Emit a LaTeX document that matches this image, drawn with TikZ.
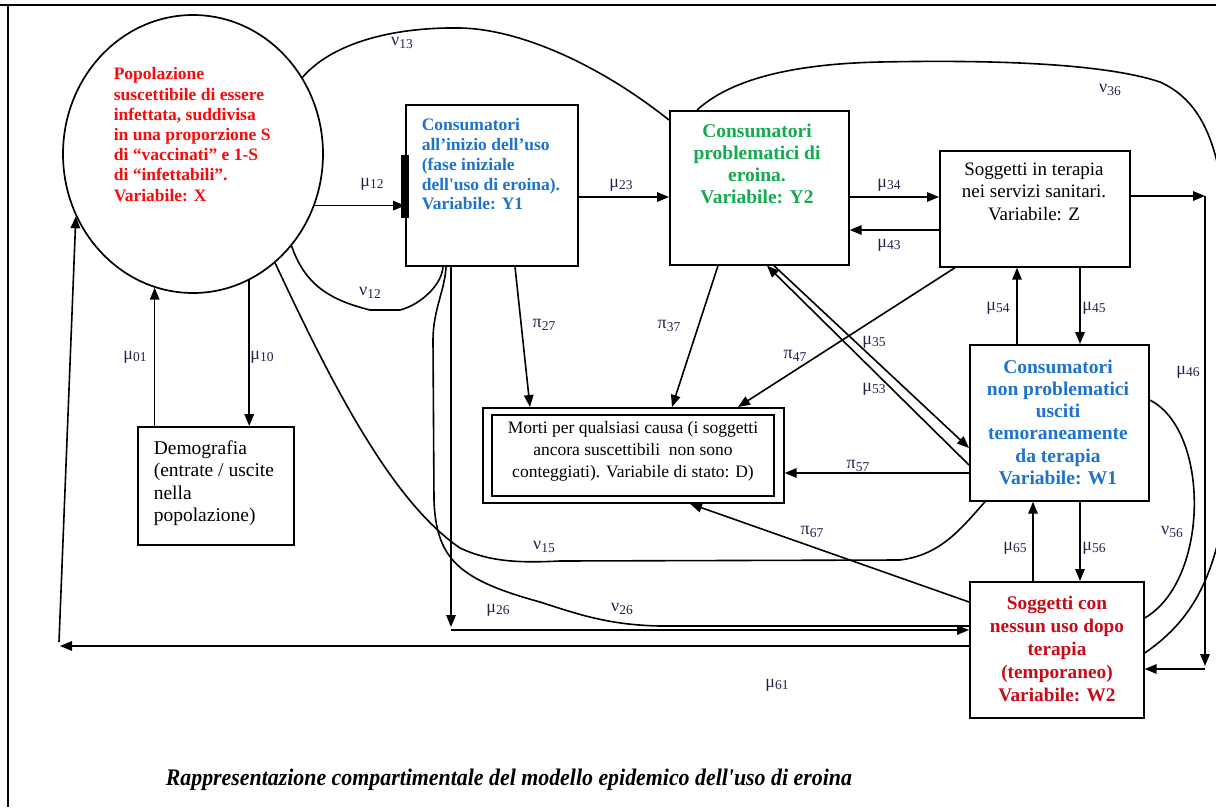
\documentclass[tikz,border=0pt]{standalone}
\usepackage{graphicx}
\usepackage{fontspec}
\setmainfont{Liberation Serif}
\usetikzlibrary{shapes.geometric,arrows.meta,calc}
\definecolor{xred}{RGB}{250,10,10}
\definecolor{yblue}{RGB}{30,115,205}
\definecolor{ygreen}{RGB}{20,170,80}
\definecolor{wred}{RGB}{200,10,25}
\definecolor{labc}{RGB}{35,35,80}
\newcommand\gl[2]{{\fontsize{18}{18}\selectfont #1}\raisebox{-2.5pt}{\fontsize{13.5}{13.5}\selectfont #2}}
\begin{document}
\begin{tikzpicture}[x=1pt,y=-1pt,line width=1.6pt,
  >={Triangle[length=12pt,width=9.5pt]},
  box/.style={draw,line width=1.7pt,inner sep=0pt,anchor=north west},
  lab/.style={text=labc,inner sep=0pt},
  ttl/.style={inner sep=0pt,anchor=north,align=center}]
\useasboundingbox (0,0) rectangle (1216,807);
\fill[white] (0,0) rectangle (1216,807);
\clip (0,0) rectangle (1216,807);
\draw[line width=1.8pt] (0,5) -- (1216,5);
\draw[line width=1.8pt] (8,5) -- (8,807);

% compartments
\node[draw,ellipse,line width=1.7pt,minimum width=260pt,minimum height=278pt,inner sep=0pt] (X) at (193,154) {};
\node[box,minimum width=172pt,minimum height=161pt] (Y1) at (405,104) {};
\node[box,minimum width=179pt,minimum height=154pt] (Y2) at (669,110) {};
\node[box,minimum width=190pt,minimum height=116pt] (Z) at (939,150) {};
\node[box,minimum width=179pt,minimum height=156pt] (W1) at (969,344) {};
\node[box,minimum width=174pt,minimum height=136pt] (W2) at (969,581) {};
\node[box,minimum width=156pt,minimum height=118pt] (Dem) at (137,426) {};
\node[box,minimum width=301pt,minimum height=95pt] (D) at (482,407) {};
\draw[line width=1.7pt] ([shift={(10,8)}]D.north west) rectangle ([shift={(-11,-8)}]D.south east);
\fill (401,155) rectangle (409,218);

% texts
\node[anchor=north west,inner sep=0pt,align=left,text=xred,font=\fontsize{17.5}{20.2}\selectfont\bfseries] (Xt) at (113,67)
 {Popolazione\\suscettibile di essere\\infettata, suddivisa\\in una proporzione S\\di “vaccinati” e 1-S\\di “infettabili”.\\Variabile: X};
\node[anchor=north west,inner sep=0pt,align=left,text=yblue,font=\fontsize{17.5}{19.75}\selectfont\bfseries] (Y1t) at (421,118)
 {Consumatori\\all’inizio dell’uso\\(fase iniziale\\dell\textquotesingle uso di eroina).\\Variabile: Y1};
\node[ttl,text=ygreen,font=\fontsize{19.5}{22}\selectfont\bfseries] (Y2t) at (757,123)
 {Consumatori\\problematici di\\eroina.\\Variabile: Y2};
\node[ttl,font=\fontsize{19}{22.5}\selectfont] (Zt) at (1034,162)
 {Soggetti in terapia\\nei servizi sanitari.\\Variabile: Z};
\node[ttl,text=yblue,font=\fontsize{19.5}{22.2}\selectfont\bfseries] (W1t) at (1058,359)
 {Consumatori\\non problematici\\usciti\\temoraneamente\\da terapia\\Variabile: W1};
\node[ttl,text=wred,font=\fontsize{19.3}{23}\selectfont\bfseries] (W2t) at (1057,595)
 {Soggetti con\\nessun uso dopo\\terapia\\(temporaneo)\\Variabile: W2};
\node[ttl,font=\fontsize{17.5}{22}\selectfont] (Dt) at (633,421)
 {Morti per qualsiasi causa (i soggetti\\ancora suscettibili \ non sono\\conteggiati). Variabile di stato: D)};
\node[anchor=north west,inner sep=0pt,align=left,font=\fontsize{19.5}{22.3}\selectfont] (Demt) at (153,440)
 {Demografia\\(entrate / uscite\\nella\\popolazione)};
\node[anchor=base west,inner sep=0pt] (cap) at (165,785)
 {\resizebox{686pt}{16.5pt}{\bfseries\itshape Rappresentazione compartimentale del modello epidemico dell\textquotesingle uso di eroina}};

% free corner points
\coordinate (k1) at (1205,196);
\coordinate (k2) at (1205,666);
\coordinate (k3) at (1205,669);
\coordinate (k4) at (451,627);
\coordinate (k5) at (451,630);
\coordinate (k6) at (60,646);
\coordinate (k7) at (59,642);

% straight flows
\draw[->] (X.-23) -- (X.-23 -| Y1.west);
\draw[->] (Y1.east |- 0,197) -- (Y2.west |- 0,197);
\draw[->] (Y2.east |- 0,197) -- (Z.west |- 0,197);
\draw[->] (Z.west |- 0,230) -- (Y2.east |- 0,230);
\draw[->] (Z.east |- k1) -- (k1);
\draw[->] (k1) -- (k2);
\draw[->] (k3) -- (k3 -| W2.east);
\draw[->] (Dem.north -| X.-106.8) -- (X.-106.8);
\draw[->] (X.-66.9) -- (X.-66.9 |- Dem.north);
\draw[->] (W1.north -| 1017,0) -- (Z.south -| 1017,0);
\draw[->] (Z.south -| 1080,0) -- (W1.north -| 1080,0);
\draw[->] (W2.north -| 1033,0) -- (W1.south -| 1033,0);
\draw[->] (W1.south -| 1080,0) -- (W2.north -| 1080,0);
\draw[->] (W1.west |- 0,473) -- (D.east |- 0,473);
\draw[->] (Y1.south -| 515,0) -- (D.north -| 530,0);
\draw[->] (Y2.south -| 718,0) -- (D.north -| 672,0);
\draw[->] (Z.south -| 955,0) -- (D.north -| 738,0);
\draw[->] (W2.west |- 0,602) -- (D.south -| 690,0);
\draw[->] (W1.west |- 0,465) -- (Y2.south -| 767,0);
\draw[->] (Y2.south -| 774,0) -- (W1.west |- 0,448);
\draw[->] (Y1.south -| k4) -- (k4);
\draw[->] (k5) -- (k5 -| W2.west);
\draw[->] (W2.west |- k6) -- (k6);
\draw[->] (k7) -- (X.208);

% curved flows
\draw (X.35) .. controls (335,40) and (400,27) .. (460,28) .. controls (520,29) and (600,65) .. (Y2.west |- 0,120);
\draw (Y2.north -| 697,0) .. controls (730,80) and (790,64) .. (880,62) .. controls (980,60) and (1100,62) .. (1160,82) .. controls (1200,100) and (1216,140) .. (1224,200) -- (1232,420) .. controls (1228,560) and (1200,615) .. (W2.east |- 0,653);
\draw (W1.east |- 0,400) .. controls (1210,430) and (1210,580) .. (W2.east |- 0,618);
\draw (X.-43) .. controls (305,285) and (330,300) .. (370,310) -- (400,310) .. controls (420,305) and (442,285) .. (Y1.south -| 443,0);
\draw (X.-53) .. controls (330,380) and (390,500) .. (460,548) .. controls (490,562) and (520,563) .. (560,561) -- (900,560) .. controls (940,555) and (960,530) .. (W1.south -| 985,0);
\draw (Y1.south -| 446,0) .. controls (445,290) and (433,310) .. (433,340) -- (434,500) .. controls (436,560) and (460,580) .. (540,602) .. controls (580,615) and (610,625) .. (660,626) -- (W2.west |- 0,626);

% labels
\node[lab] (n13) at (402,43) {\gl{ν}{13}};
\node[lab] (m12) at (372,184) {\gl{μ}{12}};
\node[lab] (m23) at (621,185) {\gl{μ}{23}};
\node[lab] (m34) at (889,185) {\gl{μ}{34}};
\node[lab] (m43) at (889,245) {\gl{μ}{43}};
\node[lab] (n36) at (1110,90) {\gl{ν}{36}};
\node[lab] (n12) at (370,293) {\gl{ν}{12}};
\node[lab] (m01) at (135,357) {\gl{μ}{01}};
\node[lab] (m10) at (262,357) {\gl{μ}{10}};
\node[lab] (p27) at (544,325) {\gl{π}{27}};
\node[lab] (p37) at (669,326) {\gl{π}{37}};
\node[lab] (p47) at (795,356) {\gl{π}{47}};
\node[lab] (m35) at (874,342) {\gl{μ}{35}};
\node[lab] (m53) at (874,389) {\gl{μ}{53}};
\node[lab] (m54) at (998,308) {\gl{μ}{54}};
\node[lab] (m45) at (1094,308) {\gl{μ}{45}};
\node[lab] (m46) at (1188,372) {\gl{μ}{46}};
\node[lab] (p57) at (858,466) {\gl{π}{57}};
\node[lab] (p67) at (812,532) {\gl{π}{67}};
\node[lab] (n15) at (544,547) {\gl{ν}{15}};
\node[lab] (m65) at (1015,548) {\gl{μ}{65}};
\node[lab] (m56) at (1094,548) {\gl{μ}{56}};
\node[lab] (n56) at (1172,532) {\gl{ν}{56}};
\node[lab] (m26) at (498,610) {\gl{μ}{26}};
\node[lab] (n26) at (622,609) {\gl{ν}{26}};
\node[lab] (m61) at (777,685) {\gl{μ}{61}};
\end{tikzpicture}
\end{document}
